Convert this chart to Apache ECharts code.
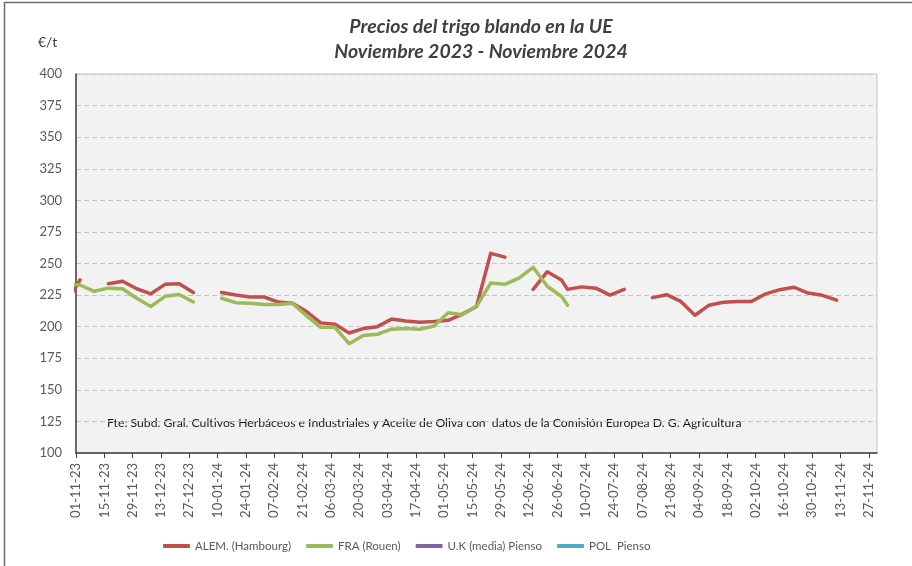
<!DOCTYPE html>
<html><head><meta charset="utf-8">
<script src="https://cdn.jsdelivr.net/npm/echarts@6/dist/echarts.min.js"></script>
<style>html,body{margin:0;padding:0;background:#fff}#c{width:912px;height:566px}</style>
</head><body><div id="c"></div>
<script>
// ---- data ----
const axisStart = '2023-11-01';
const axisEnd = '2024-12-01';
const tickLabels = ['01-11-23','15-11-23','29-11-23','13-12-23','27-12-23','10-01-24','24-01-24','07-02-24','21-02-24','06-03-24','20-03-24','03-04-24','17-04-24','01-05-24','15-05-24','29-05-24','12-06-24','26-06-24','10-07-24','24-07-24','07-08-24','21-08-24','04-09-24','18-09-24','02-10-24','16-10-24','30-10-24','13-11-24','27-11-24'];
const seriesNames = ['ALEM. (Hambourg)','FRA (Rouen)','U.K (media) Pienso','POL  Pienso'];

const alemDates = ['2023-10-27','2023-11-03','2023-11-10','2023-11-17','2023-11-24','2023-12-01','2023-12-08','2023-12-15','2023-12-22','2023-12-29','2024-01-05','2024-01-12','2024-01-19','2024-01-26','2024-02-02','2024-02-09','2024-02-16','2024-02-23','2024-03-01','2024-03-08','2024-03-15','2024-03-22','2024-03-29','2024-04-05','2024-04-12','2024-04-19','2024-04-26','2024-05-03','2024-05-10','2024-05-17','2024-05-24','2024-05-31','2024-06-07','2024-06-14','2024-06-21','2024-06-28','2024-07-01','2024-07-08','2024-07-15','2024-07-22','2024-07-29','2024-08-05','2024-08-12','2024-08-19','2024-08-26','2024-09-02','2024-09-09','2024-09-16','2024-09-23','2024-09-30','2024-10-07','2024-10-14','2024-10-21','2024-10-28','2024-11-04','2024-11-11'];
const alemValues = [218,237,null,234,236,230,226,233.5,234,227,null,227,225,223.5,223.5,219.5,218.5,212,203,202,195,198.5,200,206,204.5,203.5,204,205,210,216,258,255,null,229.5,243.5,237,229.5,231.5,230.5,225,229.5,null,223,225.3,220,209,217,219.3,220,220,226,229.3,231.2,226.6,224.8,221];

const fraDates = ['2023-10-27','2023-11-03','2023-11-10','2023-11-17','2023-11-24','2023-12-01','2023-12-08','2023-12-15','2023-12-22','2023-12-29','2024-01-05','2024-01-12','2024-01-19','2024-01-26','2024-02-02','2024-02-09','2024-02-16','2024-02-23','2024-03-01','2024-03-08','2024-03-15','2024-03-22','2024-03-29','2024-04-05','2024-04-12','2024-04-19','2024-04-26','2024-05-03','2024-05-10','2024-05-17','2024-05-24','2024-05-31','2024-06-07','2024-06-14','2024-06-21','2024-06-28','2024-07-01'];
const fraValues = [234,233,228,230.5,230,222.5,216,224,225.5,219.5,null,222.5,219,218.5,217.5,217.5,218.5,208.5,199.5,199.5,186.5,193,194,198,198.5,198,200.5,211,209.5,216,234.5,233.5,238.5,247,232,224,217];

const ukDates = [];
const ukValues = [];
const polDates = [];
const polValues = [];

const yMin = 100, yMax = 400, yStep = 25;

// ---- helpers ----
function dayOf(iso) {
  const p = iso.split('-').map(Number);
  const a = axisStart.split('-').map(Number);
  return Math.round((Date.UTC(p[0], p[1]-1, p[2]) - Date.UTC(a[0], a[1]-1, a[2])) / 86400000);
}
function dayOfLabel(lbl) {
  const p = lbl.split('-');
  return dayOf('20' + p[2] + '-' + p[1] + '-' + p[0]);
}
function pairs(dates, vals) {
  return dates.map((d, i) => [dayOf(d), vals[i] == null ? '-' : vals[i]]);
}
const tickDays = tickLabels.map(dayOfLabel);
const labelByDay = {};
tickDays.forEach((d, i) => labelByDay[d] = tickLabels[i]);

const FONT = 'Lato, "Liberation Sans", sans-serif';
const colors = ['#c0504d', '#9bbb59', '#8064a2', '#4bacc6'];

const chart = echarts.init(document.getElementById('c'));
function lineSeries(name, data, color) {
  return {
    name: name, type: 'line', data: data, showSymbol: false, symbol: 'none',
    connectNulls: false, clip: true, animation: false,
    itemStyle: { color: color },
    lineStyle: { color: color, width: 3.5, cap: 'round', join: 'round' }
  };
}
chart.setOption({
  animation: false,
  backgroundColor: '#ffffff',
  title: {
    text: 'Precios del trigo blando en la UE\nNoviembre 2023 - Noviembre 2024',
    left: 476, top: 9, textAlign: 'center',
    textStyle: { fontFamily: FONT, fontSize: 19.5, fontWeight: 'bold', fontStyle: 'italic', color: '#404040', lineHeight: 25 }
  },
  graphic: [
    { type: 'rect', shape: { x: 4.5, y: 2.5, width: 1200, height: 1200 }, style: { fill: 'none', stroke: '#6b6b6b', lineWidth: 1.5 }, silent: true },
    { type: 'text', left: 38, top: 35, style: { text: '€/t', font: '14px ' + FONT, fill: '#404040' } },
    { type: 'text', left: 107, top: 417, style: { text: 'Fte: Subd. Gral. Cultivos Herbáceos e Industriales y Aceite de Oliva con  datos de la Comisión Europea D. G. Agricultura', font: '12.2px ' + FONT, fill: '#1a1a1a' } }
  ],
  legend: {
    left: 158, top: 535, itemWidth: 27, itemHeight: 4, itemGap: 15, icon: 'roundRect',
    textStyle: { fontFamily: FONT, fontSize: 11.5, color: '#595959' },
    data: seriesNames
  },
  grid: {
    left: 76, right: 35, top: 74, bottom: 113, containLabel: false,
    show: true, backgroundColor: '#f2f2f2', borderColor: '#c4c4c4', borderWidth: 1
  },
  xAxis: {
    type: 'value', min: 0, max: dayOf(axisEnd), interval: 14,
    axisLine: { show: true, onZero: false, lineStyle: { color: '#404040', width: 1.5 } },
    axisTick: { show: true, length: 5, lineStyle: { color: '#404040' }, customValues: tickDays },
    splitLine: { show: false },
    axisLabel: {
      rotate: 90, margin: 10, fontFamily: FONT, fontSize: 13, color: '#595959',
      customValues: tickDays,
      formatter: v => labelByDay[v] || ''
    }
  },
  yAxis: {
    type: 'value', min: yMin, max: yMax, interval: yStep,
    axisLine: { show: true, lineStyle: { color: '#404040', width: 1.5 } },
    axisTick: { show: false },
    splitLine: { show: true, lineStyle: { color: '#c4c4c4', width: 1, type: [5, 3] } },
    axisLabel: { margin: 14, fontFamily: FONT, fontSize: 13, color: '#595959' }
  },
  series: [
    lineSeries(seriesNames[0], pairs(alemDates, alemValues), colors[0]),
    lineSeries(seriesNames[1], pairs(fraDates, fraValues), colors[1]),
    lineSeries(seriesNames[2], pairs(ukDates, ukValues), colors[2]),
    lineSeries(seriesNames[3], pairs(polDates, polValues), colors[3])
  ]
});
</script></body></html>
